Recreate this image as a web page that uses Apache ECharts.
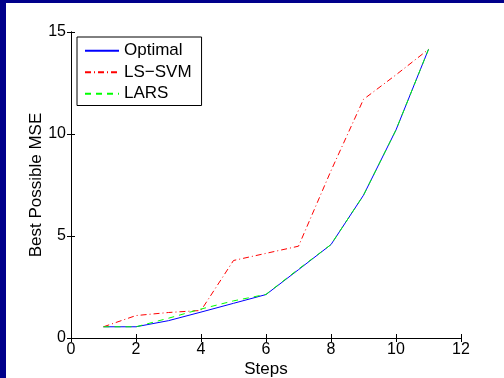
<!DOCTYPE html>
<html>
<head>
<meta charset="utf-8">
<script src="https://cdn.jsdelivr.net/npm/echarts@6/dist/echarts.min.js"></script>
<style>
  html, body { margin: 0; padding: 0; overflow: hidden; background: #fff; }
  #chart { position: absolute; left: 0; top: 0; width: 504px; height: 378px; }
</style>
</head>
<body>
<div id="chart"></div>
<script>
const steps = [1, 2, 3, 4, 5, 6, 7, 8, 9, 10, 11]
const optimal = [0.55, 0.55, 0.85, 1.27, 1.7, 2.13, 3.35, 4.58, 7.0, 10.2, 14.15]
const lsSvm = [0.55, 1.1, 1.25, 1.35, 3.8, 4.15, 4.5, 8.2, 11.7, 12.9, 14.15]
const lars = [0.55, 0.55, 0.97, 1.42, 1.82, 2.14, 3.38, 4.58, 7.0, 10.2, 14.15]
const seriesNames = ['Optimal', 'LS\u2212SVM', 'LARS']

const font = "'Liberation Sans', Arial, sans-serif"
const navy = '#00008b'
const pairs = (ys) => steps.map((x, i) => [x, ys[i]])

const chart = echarts.init(document.getElementById('chart'))

const boxAxis = {
  axisLine: { show: true, lineStyle: { color: '#000', width: 1 } },
  axisTick: { show: true, inside: true, length: 4, lineStyle: { color: '#000' } },
  splitLine: { show: false }
}

const option = {
  animation: false,
  backgroundColor: '#fff',
  // dark frame strips on the left and top edges
  graphic: [
    { type: 'rect', left: 0, top: 0, shape: { width: 6, height: 378 }, style: { fill: navy }, silent: true },
    { type: 'rect', left: 0, top: 0, shape: { width: 504, height: 3 }, style: { fill: navy }, silent: true }
  ],
  grid: { left: 71, right: 43, top: 32, bottom: 40, outerBoundsMode: 'none' },
  legend: {
    orient: 'vertical',
    left: 77,
    top: 37,
    backgroundColor: '#fff',
    borderColor: '#000',
    borderWidth: 1,
    borderRadius: 0,
    padding: [5, 10, 3, 7],
    itemWidth: 34,
    itemHeight: 12,
    itemGap: 4,
    itemStyle: { opacity: 0 },
    textStyle: { color: '#000', fontSize: 17, fontFamily: font, lineHeight: 17.5 },
    data: seriesNames
  },
  xAxis: [
    {
      ...boxAxis,
      type: 'value', min: 0, max: 12, interval: 2,
      name: 'Steps', nameLocation: 'middle', nameGap: 23, nameMoveOverlap: false,
      nameTextStyle: { color: '#000', fontSize: 17, fontFamily: font },
      axisLabel: { color: '#000', fontSize: 16, fontFamily: font, margin: 4 }
    },
    {
      ...boxAxis,
      type: 'value', min: 0, max: 12, interval: 2, position: 'top',
      axisLabel: { show: false }
    }
  ],
  yAxis: [
    {
      ...boxAxis,
      type: 'value', min: 0, max: 15, interval: 5,
      name: 'Best Possible MSE', nameLocation: 'middle', nameGap: 26, nameMoveOverlap: false,
      nameTextStyle: { color: '#000', fontSize: 17, fontFamily: font },
      axisLabel: { color: '#000', fontSize: 16, fontFamily: font, margin: 5 }
    },
    {
      ...boxAxis,
      type: 'value', min: 0, max: 15, interval: 5, position: 'right',
      axisLabel: { show: false }
    }
  ],
  series: [
    {
      name: seriesNames[0], type: 'line', data: pairs(optimal),
      symbol: 'none', lineStyle: { color: '#0000ff', width: 1 },
      itemStyle: { color: '#0000ff' }
    },
    {
      name: seriesNames[1], type: 'line', data: pairs(lsSvm),
      symbol: 'none', lineStyle: { color: '#ff0000', width: 1, type: [6, 3, 1, 3] },
      itemStyle: { color: '#ff0000' }
    },
    {
      name: seriesNames[2], type: 'line', data: pairs(lars),
      symbol: 'none', lineStyle: { color: '#00ff00', width: 1, type: [6, 5] },
      itemStyle: { color: '#00ff00' }
    }
  ]
}

chart.setOption(option)
</script>
</body>
</html>
